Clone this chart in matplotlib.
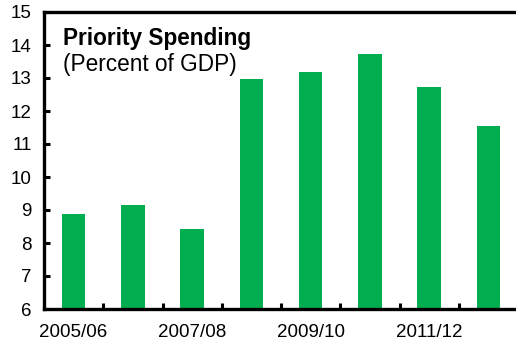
import numpy as np
import matplotlib.pyplot as plt

plt.rcParams['font.family'] = ['Liberation Sans', 'DejaVu Sans']

# Priority spending by fiscal year, percent of GDP
years = ['2005/06', '2006/07', '2007/08', '2008/09', '2009/10', '2010/11', '2011/12', '2012/13']
spending = [8.87, 9.15, 8.43, 12.96, 13.18, 13.73, 12.74, 11.55]
tick_labels = ['2005/06', '', '2007/08', '', '2009/10', '', '2011/12', '']

fig = plt.figure(figsize=(5.16, 3.45), dpi=100)
ax = fig.add_axes([44 / 516, 1 - 309 / 345, 474 / 516, 297 / 345])

x = np.arange(len(years))
ax.bar(x, spending, width=0.4, color='#00ae4f', bottom=0)

ax.set_xlim(-0.5, 7.5)
ax.set_ylim(6, 15)
ax.set_yticks(range(6, 16))

# category labels under every other bar, tick marks between bars
ax.set_xticks(x)
ax.set_xticklabels(tick_labels)
ax.tick_params(axis='x', length=0, labelsize=13.5, pad=11)
ax.set_xticks(x[:-1] + 0.5, minor=True)
ax.tick_params(axis='x', which='minor', direction='in', length=4, width=2.2)
ax.tick_params(axis='y', direction='in', length=4, width=2.2, labelsize=13.5, pad=9)

for side in ['left', 'bottom', 'top']:
    ax.spines[side].set_linewidth(2.4)
ax.spines['right'].set_visible(False)

ax.text(0.04, 0.95, 'Priority Spending', transform=ax.transAxes, fontsize=16.3,
        fontweight='bold', va='top')
ax.text(0.04, 0.862, '(Percent of GDP)', transform=ax.transAxes, fontsize=16.3, va='top')

fig.savefig('out.png', dpi=100)
